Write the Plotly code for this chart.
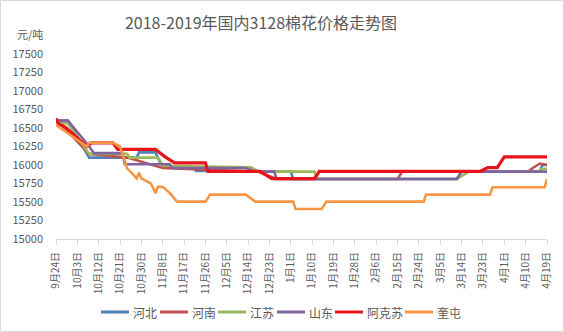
import plotly.graph_objects as go

# ---- data ----
names = ["河北", "河南", "江苏", "山东", "阿克苏", "奎屯"]
colors = ["#4F81BD", "#C0504D", "#9BBB59", "#8064A2", "#E8141B", "#F79646"]

hebei_x = ["2018-09-24", "2018-09-29", "2018-10-08", "2018-10-28", "2018-10-29", "2018-11-05", "2018-11-07",
           "2018-11-12", "2018-11-21", "2018-11-22", "2018-11-26", "2018-11-27", "2018-12-15", "2018-12-18",
           "2019-01-01", "2019-01-02", "2019-03-12", "2019-03-14", "2019-04-16", "2019-04-17", "2019-04-19"]
hebei_y = [16600, 16600, 16100, 16100, 16170, 16170, 16020,
           15970, 15970, 15920, 15920, 15970, 15970, 15910,
           15910, 15810, 15810, 15910, 15910, 16000, 16000]

henan_x = ["2018-09-24", "2018-10-08", "2018-10-24", "2018-11-08", "2018-12-18", "2018-12-26",
           "2019-02-15", "2019-02-17", "2019-04-11", "2019-04-13", "2019-04-16", "2019-04-19"]
henan_y = [16620, 16150, 16100, 15960, 15910, 15810,
           15810, 15910, 15910, 15960, 16020, 16000]

jiangsu_x = ["2018-09-24", "2018-09-29", "2018-10-08", "2018-10-24", "2018-10-25", "2018-11-06", "2018-11-08",
             "2018-12-15", "2018-12-18", "2019-01-11", "2019-01-12", "2019-03-12", "2019-03-17",
             "2019-04-15", "2019-04-17", "2019-04-19"]
jiangsu_y = [16580, 16560, 16150, 16150, 16100, 16100, 15990,
             15970, 15910, 15910, 15810, 15810, 15910,
             15910, 15950, 15950]

shandong_x = ["2018-09-24", "2018-09-29", "2018-10-08", "2018-10-10", "2018-10-22", "2018-10-23",
              "2018-11-11", "2018-11-12", "2018-12-13", "2018-12-17", "2018-12-25", "2018-12-26",
              "2019-03-12", "2019-03-14", "2019-04-19"]
shandong_y = [16600, 16600, 16250, 16160, 16160, 16010,
              16010, 15960, 15960, 15910, 15910, 15810,
              15810, 15910, 15910]

akesu_x = ["2018-09-24", "2018-09-25", "2018-09-28", "2018-10-07", "2018-10-09", "2018-10-18", "2018-10-20",
           "2018-11-05", "2018-11-07", "2018-11-09", "2018-11-13", "2018-11-26", "2018-11-27",
           "2018-12-19", "2018-12-24", "2019-01-11", "2019-01-13", "2019-03-22", "2019-03-25",
           "2019-03-29", "2019-04-01", "2019-04-19"]
akesu_y = [16630, 16560, 16510, 16250, 16300, 16300, 16210,
           16210, 16160, 16110, 16030, 16030, 15915,
           15915, 15815, 15815, 15915, 15915, 15965,
           15965, 16110, 16110]

kuitun_x = ["2018-09-24", "2018-10-07", "2018-10-08", "2018-10-18", "2018-10-21", "2018-10-24", "2018-10-26",
            "2018-10-28", "2018-10-29", "2018-10-30", "2018-11-03", "2018-11-05", "2018-11-06", "2018-11-08",
            "2018-11-11", "2018-11-14", "2018-11-26", "2018-11-28", "2018-12-13", "2018-12-17",
            "2019-01-02", "2019-01-03", "2019-01-14", "2019-01-16", "2019-02-26", "2019-02-27",
            "2019-03-26", "2019-03-27", "2019-04-18", "2019-04-19"]
kuitun_y = [16540, 16250, 16300, 16300, 16250, 15955, 15890,
            15820, 15895, 15820, 15750, 15620, 15705, 15705,
            15620, 15505, 15505, 15600, 15600, 15505,
            15505, 15405, 15405, 15505, 15505, 15600,
            15600, 15700, 15700, 15810]

tick_dates = ["2018-09-24", "2018-10-03", "2018-10-12", "2018-10-21", "2018-10-30", "2018-11-08",
              "2018-11-17", "2018-11-26", "2018-12-05", "2018-12-14", "2018-12-23", "2019-01-01",
              "2019-01-10", "2019-01-19", "2019-01-28", "2019-02-06", "2019-02-15", "2019-02-24",
              "2019-03-05", "2019-03-14", "2019-03-23", "2019-04-01", "2019-04-10", "2019-04-19"]
tick_labels = ["9月24日", "10月3日", "10月12日", "10月21日", "10月30日", "11月8日",
               "11月17日", "11月26日", "12月5日", "12月14日", "12月23日", "1月1日",
               "1月10日", "1月19日", "1月28日", "2月6日", "2月15日", "2月24日",
               "3月5日", "3月14日", "3月23日", "4月1日", "4月10日", "4月19日"]
y_ticks = [15000, 15250, 15500, 15750, 16000, 16250, 16500, 16750, 17000, 17250, 17500]

series_x = [hebei_x, henan_x, jiangsu_x, shandong_x, akesu_x, kuitun_x]
series_y = [hebei_y, henan_y, jiangsu_y, shandong_y, akesu_y, kuitun_y]
widths = [2.6, 2.6, 2.6, 2.6, 3.2, 2.6]

FONT = "Noto Sans CJK SC"
W, H = 564, 332
L, R, T, B = 56, 17, 54, 93
PW, PH = W - L - R, H - T - B


def px_x(px):
    return (px - L) / PW


def px_y(py):
    return (H - B - py) / PH


fig = go.Figure()
for n, c, xs, ys, w in zip(names, colors, series_x, series_y, widths):
    fig.add_trace(go.Scatter(x=xs, y=ys, name=n, mode="lines", showlegend=False,
                             line=dict(color=c, width=w)))

fig.update_layout(
    width=W, height=H,
    margin=dict(l=L, r=R, t=T, b=B),
    paper_bgcolor="white", plot_bgcolor="white",
    font=dict(family=FONT, color="#595959", size=11),
    title=dict(text="2018-2019年国内3128棉花价格走势图", x=261/W, xanchor="center",
               y=1 - 23/H, yanchor="middle",
               font=dict(family=FONT, size=16, color="#595959")),
    showlegend=False,
)
fig.update_xaxes(type="date", range=["2018-09-24", "2019-04-19"],
                 tickvals=tick_dates, ticktext=tick_labels, tickangle=-90,
                 showgrid=False, showline=True, linecolor="#D9D9D9", linewidth=1,
                 ticks="outside", ticklen=5, tickcolor="#D9D9D9", ticklabelstandoff=3,
                 tickfont=dict(family=FONT, size=10, color="#595959"), zeroline=False)
fig.update_yaxes(range=[15000, 17500], tickvals=y_ticks, tickformat="d",
                 showgrid=False, showline=False,
                 zeroline=False, ticks="", ticklabelstandoff=12,
                 tickfont=dict(family=FONT, size=11, color="#595959"))
fig.add_annotation(text="元/吨", x=px_x(15), xanchor="left", y=px_y(34), yanchor="middle",
                   xref="paper", yref="paper", showarrow=False,
                   font=dict(family=FONT, size=11, color="#595959"))

# manual legend
leg_line_x = [101, 160, 218, 277, 335, 405]
leg_y = 312
for n, c, lx in zip(names, colors, leg_line_x):
    fig.add_shape(type="line", xref="paper", yref="paper",
                  x0=px_x(lx), x1=px_x(lx + 28), y0=px_y(leg_y), y1=px_y(leg_y),
                  line=dict(color=c, width=3))
    fig.add_annotation(text=n, xref="paper", yref="paper", x=px_x(lx + 30), xanchor="left",
                       y=px_y(leg_y), yanchor="middle", showarrow=False,
                       font=dict(family=FONT, size=12, color="#595959"))

fig.add_shape(type="rect", xref="paper", yref="paper", x0=px_x(0.5), x1=px_x(W - 0.5),
              y0=px_y(H - 0.5), y1=px_y(0.5), line=dict(color="#D9D9D9", width=1))
fig.write_html("out.html")
